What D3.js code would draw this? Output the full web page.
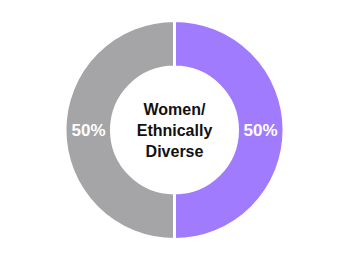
<!DOCTYPE html>
<html lang="en">
  <head>
    <meta charset="utf-8">
    <title>Donut</title>
    <style>
      body { margin: 0; background: #fff; }
      text { font-family: "Liberation Sans", Arial, sans-serif; font-weight: bold; }
    </style>
  </head>
  <body>
    <div id="container"></div>
    <script src="https://cdnjs.cloudflare.com/ajax/libs/d3/7.8.5/d3.min.js"></script>
    <script type="text/javascript">
      var width = 348, height = 260;

      var categories = ["Women/Ethnically Diverse", "Other"];
      var values = [50, 50];
      var labels = ["50%", "50%"];
      var centerLines = ["Women/", "Ethnically", "Diverse"];
      var colors = ["#a07bfd", "#a5a5a7"];

      var cx = 174.5, cy = 130,
          outer = 109.5, inner = 63;

      var svg = d3.select("#container")
        .append("svg")
          .attr("width", width)
          .attr("height", height);

      var g = svg.append("g")
          .attr("transform", "translate(" + cx + "," + cy + ")");

      var pie = d3.pie().sort(null).value(function(d) { return d; });
      var arcs = pie(values);

      var arc = d3.arc().innerRadius(inner).outerRadius(outer);
      var labelArc = d3.arc().innerRadius(86).outerRadius(86);

      g.selectAll(".slice")
        .data(arcs)
        .enter().append("path")
          .attr("class", "slice")
          .attr("d", arc)
          .style("fill", function(d, i) { return colors[i]; })
          .style("stroke", "#fff")
          .style("stroke-width", 3);

      g.selectAll(".pct")
        .data(arcs)
        .enter().append("text")
          .attr("class", "pct")
          .attr("transform", function(d) { return "translate(" + labelArc.centroid(d) + ")"; })
          .attr("dy", "0.35em")
          .attr("text-anchor", "middle")
          .style("fill", "#fff")
          .style("font-size", "17px")
          .text(function(d, i) { return labels[i]; });

      g.selectAll(".center")
        .data(centerLines)
        .enter().append("text")
          .attr("class", "center")
          .attr("text-anchor", "middle")
          .attr("y", function(d, i) { return -15 + i * 21; })
          .style("fill", "#111")
          .style("font-size", "16px")
          .text(function(d) { return d; });
    </script>
  </body>
</html>
